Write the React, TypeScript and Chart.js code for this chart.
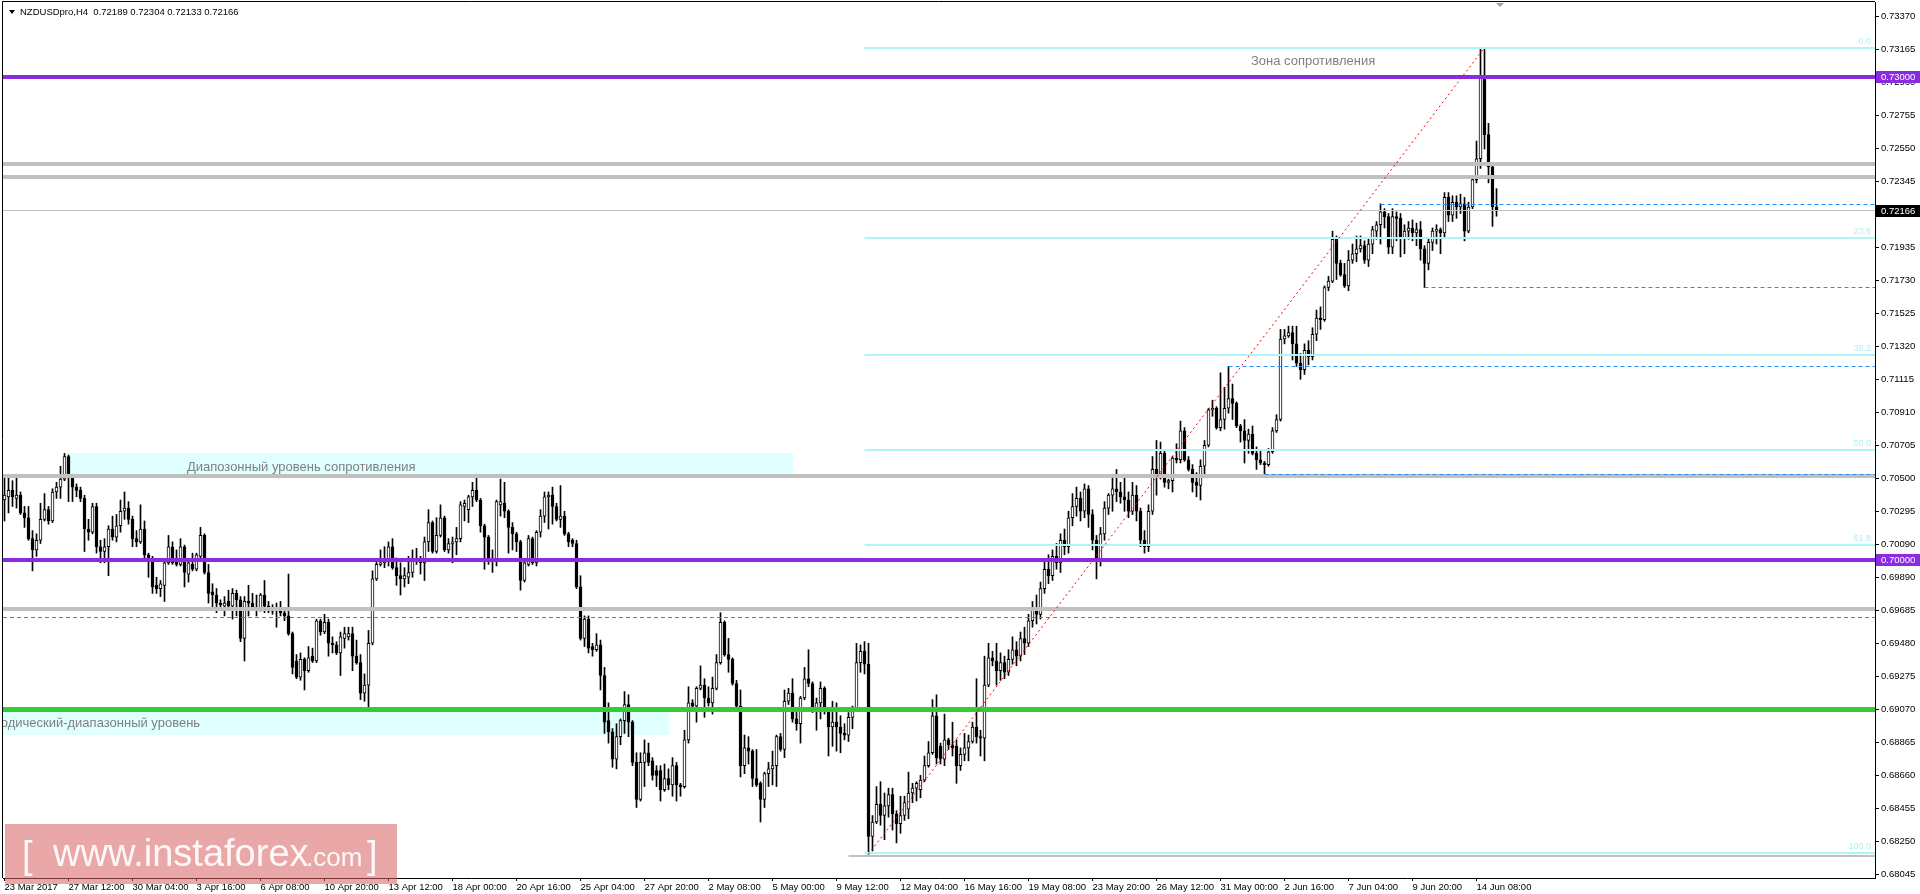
import React, { useEffect, useRef } from "react";
import { Chart, registerables } from "chart.js";

Chart.register(...registerables);

// ---------- candle data (price x 10000), NZDUSD H4 ----------
const openP = [
  7037,7039,7043,7038,7040,7029,7026,7013,7006,7012,
  7025,7031,7024,7042,7045,7050,7064,7052,7045,7043,
  7038,7019,7017,7033,7008,7005,7008,7019,7014,7021,
  7030,7032,7025,7013,7011,7019,7003,7001,6984,6982,
  6984,6998,7008,6999,6997,7008,6991,6997,6994,7002,
  7015,6992,6980,6978,6973,6971,6974,6971,6979,6975,
  6951,6974,6973,6970,6969,6978,6971,6968,6970,6969,
  6967,6965,6954,6937,6927,6938,6931,6940,6937,6962,
  6955,6961,6948,6947,6942,6951,6952,6954,6940,6936,
  6917,6922,6948,6988,6997,6998,6999,7008,6995,6990,
  6988,6989,6992,6999,7001,6998,7011,7023,7005,7015,
  7026,7006,7010,7011,7013,7033,7031,7039,7043,7037,
  7021,7014,7001,6999,7034,7035,7030,7020,7016,7011,
  6987,6997,7013,6998,7017,7027,7039,7040,7033,7025,
  7027,7016,7012,7010,6983,6951,6963,6946,6944,6947,
  6928,6900,6893,6876,6890,6900,6910,6899,6874,6851,
  6874,6880,6875,6869,6869,6857,6864,6860,6872,6860,
  6859,6888,6911,6909,6920,6922,6914,6911,6920,6936,
  6961,6941,6938,6923,6909,6872,6883,6881,6864,6861,
  6851,6867,6870,6872,6890,6882,6912,6917,6901,6898,
  6914,6926,6923,6907,6911,6920,6907,6896,6899,6896,
  6892,6891,6902,6907,6936,6943,6935,6828,6837,6848,
  6841,6847,6854,6842,6836,6841,6845,6855,6858,6857,
  6863,6872,6880,6903,6884,6876,6888,6885,6884,6872,
  6879,6883,6887,6896,6890,6889,6922,6939,6937,6931,
  6936,6930,6938,6944,6940,6951,6948,6962,6970,6966,
  6982,6994,6990,7002,6998,7012,7008,7026,7033,7038,
  7030,7044,7028,7012,7000,7016,7032,7040,7044,7042,
  7039,7037,7030,7040,7030,7012,7008,7030,7056,7053,
  7066,7048,7049,7063,7062,7080,7062,7056,7048,7046,
  7058,7071,7093,7094,7082,7087,7094,7100,7097,7083,
  7080,7074,7078,7066,7062,7060,7059,7067,7080,7087,
  7137,7139,7141,7134,7122,7118,7130,7126,7140,7150,
  7149,7169,7173,7199,7184,7177,7170,7186,7190,7193,
  7195,7186,7196,7204,7208,7216,7213,7194,7213,7212,
  7200,7204,7206,7203,7205,7193,7184,7197,7204,7205,
  7203,7225,7214,7222,7219,7221,7204,7219,7236,7249,
  7299,7264,7244,7218.9,
];
const highP = [
  7052,7052,7049,7053,7042,7033,7033,7018,7016,7035,
  7041,7033,7044,7048,7058,7066,7065,7053,7047,7045,
  7040,7025,7035,7035,7012,7013,7021,7027,7028,7037,
  7042,7036,7027,7018,7034,7024,7004,7002,6989,6987,
  6999,7015,7011,7006,7013,7009,7000,7004,7004,7020,
  7016,6997,6985,6982,6975,6977,6981,6982,6981,6977,
  6977,6984,6979,6978,6979,6987,6974,6972,6973,6974,
  6970,6991,6955,6941,6942,6939,6946,6945,6963,6963,
  6966,6963,6952,6949,6955,6958,6958,6958,6950,6941,
  6929,6956,6993,7000,7006,7008,7011,7013,7001,6998,
  6995,7002,7006,7007,7002,7014,7031,7024,7026,7034,
  7027,7013,7014,7020,7036,7037,7040,7048,7051,7038,
  7022,7015,7006,7037,7050,7048,7031,7023,7017,7012,
  6999,7015,7014,7018,7031,7042,7042,7045,7035,7046,
  7030,7017,7013,7012,6990,6965,6965,6948,6954,6950,
  6933,6911,6895,6898,6901,6918,6916,6900,6880,6880,
  6888,6886,6877,6872,6872,6873,6870,6877,6874,6861,
  6894,6921,6913,6921,6934,6926,6921,6927,6941,6967,
  6962,6951,6939,6925,6919,6891,6890,6882,6882,6862,
  6868,6874,6881,6891,6892,6919,6920,6926,6908,6915,
  6933,6944,6924,6914,6924,6921,6908,6912,6911,6903,
  6898,6905,6909,6948,6947,6949,6948,6841,6859,6862,
  6855,6858,6858,6844,6853,6853,6868,6861,6862,6866,
  6878,6887,6913,6916,6886,6904,6889,6899,6888,6883,
  6892,6891,6899,6926,6894,6940,6948,6943,6948,6942,
  6940,6944,6952,6949,6955,6958,6966,6974,6978,6986,
  6999,7003,7006,7010,7016,7019,7030,7041,7045,7042,
  7047,7046,7031,7015,7020,7036,7041,7053,7056,7048,
  7053,7042,7048,7046,7032,7018,7034,7064,7074,7073,
  7068,7050,7064,7072,7086,7082,7064,7059,7054,7062,
  7074,7094,7099,7095,7116,7107,7120,7109,7098,7084,
  7087,7081,7083,7070,7068,7061,7069,7082,7090,7143,
  7143,7145,7145,7145,7128,7134,7136,7144,7155,7157,
  7170,7176,7204,7201,7186,7184,7192,7196,7201,7201,
  7198,7200,7207,7210,7221,7218,7215,7218,7216,7215,
  7208,7210,7211,7209,7210,7195,7199,7206,7208,7206,
  7228,7228,7226,7226,7227,7225,7222,7238,7260,7318,
  7318,7271,7246,7230.4,
];
const lowP = [
  7024,7029,7033,7032,7028,7020,7012,6993,7002,7010,
  7024,7022,7023,7038,7038,7049,7036,7036,7039,7036,
  7005,7012,7016,7004,6998,6998,6990,7012,7011,7017,
  7025,7022,7008,7008,7010,7001,6989,6979,6979,6977,
  6974,6997,6997,6996,6996,6983,6986,6993,6993,7001,
  6991,6973,6970,6967,6970,6965,6970,6963,6965,6949,
  6937,6965,6969,6965,6968,6967,6967,6966,6958,6965,
  6962,6953,6929,6926,6925,6919,6930,6936,6936,6953,
  6954,6940,6942,6941,6928,6945,6950,6931,6935,6913,
  6912,6907,6947,6987,6996,6995,6996,6994,6984,6978,
  6983,6985,6989,6997,6991,6987,7005,7004,7004,7014,
  7005,7004,6998,7003,7011,7024,7023,7033,7036,7017,
  6994,6997,6992,6996,7027,7026,7004,7006,7005,6981,
  6986,6996,6997,6996,7014,7023,7019,7022,7024,7020,
  7015,7008,7008,6982,6950,6946,6942,6940,6943,6919,
  6892,6886,6871,6870,6885,6892,6890,6872,6846,6850,
  6859,6872,6863,6859,6850,6856,6857,6853,6850,6853,
  6858,6886,6908,6899,6919,6902,6909,6904,6919,6935,
  6940,6930,6922,6908,6865,6867,6873,6859,6859,6837,
  6846,6859,6860,6859,6881,6877,6910,6899,6894,6886,
  6913,6921,6905,6894,6901,6904,6878,6884,6881,6880,
  6888,6887,6895,6906,6930,6929,6817,6819,6836,6835,
  6826,6840,6832,6824,6830,6838,6839,6849,6850,6852,
  6862,6871,6879,6873,6873,6872,6882,6878,6861,6869,
  6875,6875,6886,6886,6878,6875,6921,6934,6922,6925,
  6926,6928,6935,6934,6937,6941,6946,6958,6960,6963,
  6979,6985,6987,6994,6992,7003,7004,7021,7027,7024,
  7026,7020,7006,6988,6996,7012,7028,7030,7036,7035,
  7030,7026,7028,7024,7008,7004,7005,7028,7040,7050,
  7045,7044,7042,7060,7060,7061,7055,7042,7039,7037,
  7053,7070,7089,7081,7080,7081,7091,7087,7082,7073,
  7060,7066,7065,7056,7059,7053,7058,7066,7079,7086,
  7134,7138,7124,7120,7112,7115,7121,7124,7136,7143,
  7148,7167,7172,7174,7176,7169,7167,7184,7185,7191,
  7184,7182,7190,7199,7196,7206,7190,7190,7198,7188,
  7190,7199,7198,7195,7186,7169,7180,7192,7196,7190,
  7200,7210,7210,7212,7215,7198,7203,7218,7234,7243,
  7255,7234,7207,7213.3,
];
const closeP = [
  7040,7043,7039,7040,7029,7026,7013,7006,7012,7025,
  7031,7024,7042,7045,7050,7064,7052,7045,7043,7038,
  7019,7017,7033,7008,7005,7008,7019,7014,7021,7030,
  7032,7025,7013,7011,7019,7003,7001,6983,6982,6985,
  6998,7008,6998,6997,7008,6992,6998,6994,7003,7015,
  6992,6979,6978,6973,6972,6973,6971,6979,6975,6951,
  6974,6973,6970,6969,6978,6971,6969,6970,6969,6967,
  6965,6954,6933,6927,6938,6931,6939,6937,6962,6955,
  6961,6948,6947,6942,6952,6954,6954,6940,6936,6917,
  6922,6948,6988,6997,6998,7000,7008,6995,6990,6988,
  6990,6992,6999,7001,6998,7011,7023,7005,7015,7026,
  7006,7010,7011,7013,7034,7035,7039,7043,7037,7021,
  7014,7001,6999,7036,7036,7030,7020,7016,7011,6987,
  6998,7013,6998,7017,7027,7039,7040,7033,7025,7027,
  7016,7011,7010,6983,6951,6963,6945,6944,6947,6928,
  6899,6893,6876,6890,6900,6910,6899,6874,6851,6874,
  6880,6874,6866,6866,6857,6864,6860,6872,6860,6859,
  6888,6911,6909,6920,6922,6914,6911,6920,6936,6961,
  6941,6938,6923,6909,6872,6883,6881,6864,6860,6851,
  6867,6870,6872,6890,6882,6912,6917,6901,6898,6914,
  6926,6923,6907,6911,6920,6907,6896,6899,6896,6892,
  6891,6902,6907,6936,6943,6935,6828,6837,6848,6841,
  6847,6854,6842,6836,6841,6849,6855,6858,6861,6863,
  6872,6880,6903,6877,6876,6888,6885,6883,6872,6879,
  6883,6887,6896,6890,6889,6922,6939,6937,6931,6936,
  6930,6938,6944,6940,6951,6948,6962,6970,6966,6982,
  6994,6990,7002,6998,7012,7008,7026,7033,7038,7030,
  7044,7028,7012,7000,7016,7032,7040,7044,7042,7039,
  7037,7030,7040,7030,7012,7008,7030,7056,7053,7066,
  7048,7049,7063,7062,7080,7062,7056,7048,7046,7058,
  7071,7093,7094,7082,7087,7094,7100,7097,7083,7080,
  7074,7078,7066,7062,7060,7059,7067,7080,7087,7137,
  7139,7141,7134,7122,7118,7130,7126,7140,7150,7149,
  7169,7173,7199,7184,7177,7170,7186,7190,7193,7195,
  7186,7196,7205,7208,7216,7213,7194,7213,7212,7200,
  7204,7206,7203,7205,7193,7184,7197,7204,7205,7203,
  7225,7214,7222,7219,7221,7204,7219,7236,7249,7299,
  7264,7244,7219,7216.6,
];

// ---------- axis labels ----------
const timeLabels = [
  "23 Mar 2017", "27 Mar 12:00", "30 Mar 04:00", "3 Apr 16:00", "6 Apr 08:00", "10 Apr 20:00",
  "13 Apr 12:00", "18 Apr 00:00", "20 Apr 16:00", "25 Apr 04:00", "27 Apr 20:00", "2 May 08:00",
  "5 May 00:00", "9 May 12:00", "12 May 04:00", "16 May 16:00", "19 May 08:00", "23 May 20:00",
  "26 May 12:00", "31 May 00:00", "2 Jun 16:00", "7 Jun 04:00", "9 Jun 20:00", "14 Jun 08:00",
];
const timeLabelStep = 16;
const priceTickLabels = [
  "0.68045", "0.68250", "0.68455", "0.68660", "0.68865", "0.69070", "0.69275", "0.69480", "0.69685",
  "0.69890", "0.70090", "0.70295", "0.70500", "0.70705", "0.70910", "0.71115", "0.71320", "0.71525",
  "0.71730", "0.71935", "0.72140", "0.72345", "0.72550", "0.72755", "0.72960", "0.73165", "0.73370",
];
const priceTickStart = 0.68045;
const priceTickStep = 0.00205;

// ---------- chart objects ----------
const purpleLevels = [0.73, 0.7];
const greyLevels = [0.72455, 0.72378, 0.70517, 0.69695];
const greenLevels = [0.6907];
const lastPrice = 0.72166;
const dashedLevels = [0.72208, 0.7169, 0.712, 0.7053, 0.69641];
const dashedFrom = [344, 355, 306, 315, -2];
const bottomGreyLevel = 0.6816;
const bottomGreyFrom = 211;
const fibRatios = [0, 23.6, 38.2, 50, 61.8, 100];
const fibLabels = ["0.0", "23.6", "38.2", "50.0", "61.8", "100.0"];
const fibHigh = 0.7318;
const fibLow = 0.6818;
const fibFrom = 215;
const trendIndex = [216, 370];
const trendPrice = [0.6817, 0.7318];
const zoneStart = [15.8, -2];
const zoneEnd = [197, 166];
const zoneTop = [0.70662, 0.6907];
const zoneBottom = [0.70517, 0.6891];
const noteTexts = ["Зона сопротивления", "Диапозонный уровень сопротивления", "Периодический-диапазонный уровень"];
const noteIndex = [311.6, 45.6, 48.9];
const notePrice = [0.73096, 0.7057, 0.6898];
const noteAlign = ["left", "left", "right"];
const headerText = "NZDUSDpro,H4  0.72189 0.72304 0.72133 0.72166";

const FONT = "'Liberation Sans', Arial, sans-serif";

function clipArea(ctx: any, a: any) {
  ctx.beginPath();
  ctx.rect(a.left, a.top, a.right - a.left, a.bottom - a.top);
  ctx.clip();
}

function hLine(ctx: any, a: any, x0: number, py: number, color: string, w: number, dash: number[]) {
  const yy = w % 2 === 1 ? Math.round(py - 0.5) + 0.5 : Math.round(py);
  ctx.save();
  clipArea(ctx, a);
  ctx.strokeStyle = color;
  ctx.lineWidth = w;
  ctx.setLineDash(dash);
  ctx.beginPath();
  ctx.moveTo(Math.max(x0, a.left), yy);
  ctx.lineTo(a.right, yy);
  ctx.stroke();
  ctx.restore();
}

const overlayPlugin = {
  id: "mt4Overlay",
  beforeDatasetsDraw(chart: any) {
    const { ctx, chartArea: a } = chart;
    const xs = chart.scales.x;
    const ys = chart.scales.y;
    ctx.save();
    clipArea(ctx, a);
    ctx.fillStyle = "#E0FFFF";
    zoneStart.forEach((s, k) => {
      const x0 = xs.getPixelForValue(s);
      const x1 = xs.getPixelForValue(zoneEnd[k]);
      const y0 = ys.getPixelForValue(zoneTop[k]);
      const y1 = ys.getPixelForValue(zoneBottom[k]);
      ctx.fillRect(Math.round(x0), Math.round(y0), Math.round(x1 - x0), Math.round(y1 - y0));
    });
    ctx.restore();
  },
  afterDatasetsDraw(chart: any) {
    const { ctx, chartArea: a } = chart;
    const xs = chart.scales.x;
    const ys = chart.scales.y;
    // grey levels
    greyLevels.forEach((p) => hLine(ctx, a, a.left, ys.getPixelForValue(p), "#C0C0C0", 4, []));
    hLine(ctx, a, xs.getPixelForValue(bottomGreyFrom), ys.getPixelForValue(bottomGreyLevel), "#C0C0C0", 2, []);
    // fibonacci
    const fx = xs.getPixelForValue(fibFrom);
    fibRatios.forEach((r) => {
      const p = fibHigh - (r / 100) * (fibHigh - fibLow);
      hLine(ctx, a, fx, ys.getPixelForValue(p), "#AFF5F5", 2, []);
    });
    // current price
    hLine(ctx, a, a.left, ys.getPixelForValue(lastPrice), "#C0C0C0", 1, []);
    // dashed
    dashedLevels.forEach((p, k) =>
      hLine(ctx, a, xs.getPixelForValue(dashedFrom[k]), ys.getPixelForValue(p), "#1E90FF", 1, [4, 3])
    );
    // purple, green
    purpleLevels.forEach((p) => hLine(ctx, a, a.left, ys.getPixelForValue(p), "#8A2BE2", 4, []));
    greenLevels.forEach((p) => hLine(ctx, a, a.left, ys.getPixelForValue(p), "#32CD32", 5, []));
    // trend line
    ctx.save();
    clipArea(ctx, a);
    ctx.strokeStyle = "#FF0000";
    ctx.lineWidth = 1;
    ctx.setLineDash([2, 3]);
    ctx.beginPath();
    ctx.moveTo(xs.getPixelForValue(trendIndex[0]), ys.getPixelForValue(trendPrice[0]));
    ctx.lineTo(xs.getPixelForValue(trendIndex[1]), ys.getPixelForValue(trendPrice[1]));
    ctx.stroke();
    ctx.restore();
    // notes
    ctx.save();
    clipArea(ctx, a);
    ctx.fillStyle = "#808080";
    ctx.font = `13px ${FONT}`;
    ctx.textBaseline = "middle";
    noteTexts.forEach((t, k) => {
      ctx.textAlign = noteAlign[k];
      ctx.fillText(t, xs.getPixelForValue(noteIndex[k]), ys.getPixelForValue(notePrice[k]));
    });
    // fib labels
    ctx.fillStyle = "#AFF0F0";
    ctx.font = `9px ${FONT}`;
    ctx.textAlign = "right";
    ctx.textBaseline = "bottom";
    fibRatios.forEach((r, k) => {
      const p = fibHigh - (r / 100) * (fibHigh - fibLow);
      ctx.fillText(fibLabels[k], a.right - 4, ys.getPixelForValue(p) - 2);
    });
    ctx.restore();
  },
  afterDraw(chart: any) {
    const { ctx, chartArea: a } = chart;
    const ys = chart.scales.y;
    // frame
    ctx.save();
    ctx.strokeStyle = "#000";
    ctx.lineWidth = 1;
    ctx.beginPath();
    ctx.moveTo(2.5, a.bottom);
    ctx.lineTo(2.5, 1.5);
    ctx.lineTo(a.right, 1.5);
    ctx.stroke();
    // axis boxes
    ctx.font = `9.5px ${FONT}`;
    ctx.textBaseline = "middle";
    ctx.textAlign = "left";
    const box = (p: number, bg: string, label: string) => {
      const py = Math.round(ys.getPixelForValue(p));
      ctx.fillStyle = bg;
      ctx.fillRect(a.right + 1, py - 6, 1920 - a.right - 1, 12);
      ctx.fillStyle = "#fff";
      ctx.fillText(label, a.right + 6, py);
    };
    purpleLevels.forEach((p) => box(p, "#8A2BE2", p.toFixed(5)));
    box(lastPrice, "#000", lastPrice.toFixed(5));
    // header
    ctx.fillStyle = "#000";
    ctx.beginPath();
    ctx.moveTo(9, 10);
    ctx.lineTo(15, 10);
    ctx.lineTo(12, 14);
    ctx.closePath();
    ctx.fill();
    ctx.font = `9.5px ${FONT}`;
    ctx.fillText(headerText, 20, 12.5);
    // shift marker
    ctx.fillStyle = "#A0A0A0";
    ctx.beginPath();
    ctx.moveTo(1496, 3);
    ctx.lineTo(1504, 3);
    ctx.lineTo(1500, 7);
    ctx.closePath();
    ctx.fill();
    // logo
    ctx.fillStyle = "rgba(215,95,95,0.55)";
    ctx.fillRect(5, 824, 392, 60);
    ctx.fillStyle = "rgba(255,255,255,0.92)";
    ctx.textBaseline = "alphabetic";
    ctx.textAlign = "left";
    ctx.font = `38px ${FONT}`;
    ctx.fillText("[", 22, 868);
    ctx.fillText("www.instaforex", 53, 866);
    ctx.fillText("]", 367, 868);
    ctx.font = `26px ${FONT}`;
    ctx.fillText(".com", 306, 866);
    ctx.restore();
  },
};

export default function App() {
  const ref = useRef<HTMLCanvasElement | null>(null);
  useEffect(() => {
    document.body.style.margin = "0";
    const canvas = ref.current;
    if (!canvas) return;
    Chart.defaults.font.family = FONT;
    const bodies = openP.map((o, i) => ({ x: i, y: [o / 10000, closeP[i] / 10000] }));
    const wicks = lowP.map((l, i) => ({ x: i, y: [l / 10000, highP[i] / 10000] }));
    const bodyColors = openP.map((o, i) => (closeP[i] >= o ? "#FFFFFF" : "#000000"));
    const chart = new Chart(canvas, {
      type: "bar",
      data: {
        datasets: [
          {
            data: bodies as any,
            backgroundColor: bodyColors,
            borderColor: "#000",
            borderWidth: 1,
            borderSkipped: false,
            barThickness: 3,
            grouped: false,
            order: 0,
          } as any,
          {
            data: wicks as any,
            backgroundColor: "#000",
            borderWidth: 0,
            barThickness: 1,
            grouped: false,
            order: 1,
          } as any,
        ],
      },
      options: {
        responsive: false,
        devicePixelRatio: 1,
        animation: false,
        events: [],
        layout: { padding: { left: 3, top: 2, right: 0, bottom: 0 } },
        plugins: { legend: { display: false }, tooltip: { enabled: false } },
        scales: {
          x: {
            type: "linear",
            position: "bottom",
            min: -0.375,
            max: 467.625,
            bounds: "data",
            offset: false,
            grid: { display: true, drawOnChartArea: false, drawTicks: true, tickLength: 3, color: "#000", offset: false },
            border: { display: true, color: "#000", width: 1 },
            ticks: {
              autoSkip: false,
              maxRotation: 0,
              minRotation: 0,
              align: "start",
              padding: 1,
              color: "#000",
              font: { size: 9.5, family: FONT },
              callback: (_v: any, i: number) => timeLabels[i] ?? "",
            },
            afterBuildTicks: (s: any) => {
              s.ticks = timeLabels.map((_, k) => ({ value: k * timeLabelStep }));
            },
            afterFit: (s: any) => {
              s.height = 16;
              s.paddingLeft = 0;
              s.paddingRight = 0;
            },
          } as any,
          y: {
            type: "linear",
            position: "right",
            min: 0.68022,
            max: 0.734637,
            bounds: "data",
            grid: { display: true, drawOnChartArea: false, drawTicks: true, tickLength: 4, color: "#000" },
            border: { display: true, color: "#000", width: 1 },
            ticks: {
              autoSkip: false,
              padding: 2,
              color: "#000",
              font: { size: 9.5, family: FONT },
              callback: (_v: any, i: number) => priceTickLabels[i] ?? "",
            },
            afterBuildTicks: (s: any) => {
              s.ticks = priceTickLabels.map((_, k) => ({ value: priceTickStart + k * priceTickStep }));
            },
            afterFit: (s: any) => {
              s.width = 45;
              s.paddingTop = 0;
              s.paddingBottom = 0;
            },
          } as any,
        },
      } as any,
      plugins: [overlayPlugin as any],
    });
    return () => chart.destroy();
  }, []);
  return <canvas ref={ref} width={1920} height={894} style={{ display: "block" }} />;
}
